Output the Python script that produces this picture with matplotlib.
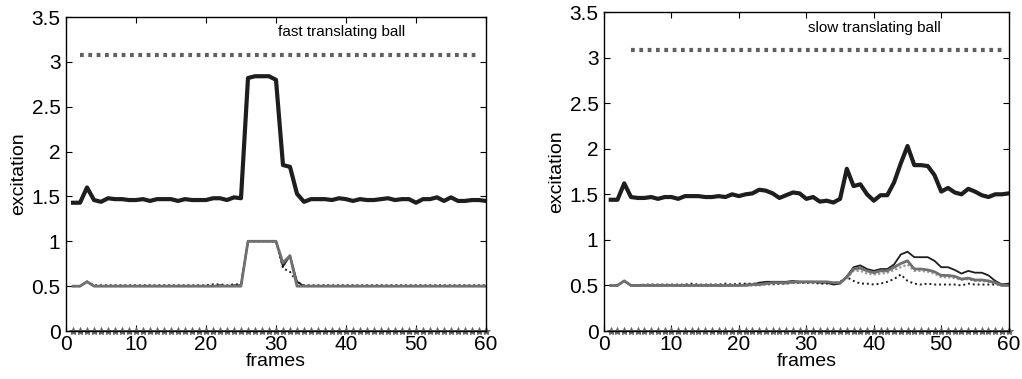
import numpy as np
import matplotlib.pyplot as plt
from matplotlib.ticker import FuncFormatter

plt.rcParams['font.family'] = ['Liberation Sans', 'DejaVu Sans']

frames = np.arange(1, 61)

# fast translating ball
fast_total = [1.43, 1.43, 1.60, 1.46, 1.44, 1.48, 1.47, 1.47, 1.46, 1.46,
              1.47, 1.45, 1.47, 1.47, 1.47, 1.45, 1.47, 1.46, 1.46, 1.46,
              1.48, 1.48, 1.46, 1.49, 1.48, 2.82, 2.84, 2.84, 2.84, 2.80,
              1.85, 1.83, 1.53, 1.44, 1.47, 1.47, 1.47, 1.46, 1.48, 1.47,
              1.45, 1.47, 1.46, 1.46, 1.47, 1.48, 1.46, 1.47, 1.47, 1.43,
              1.47, 1.47, 1.49, 1.45, 1.49, 1.45, 1.45, 1.46, 1.46, 1.45]
fast_a = [0.50, 0.50, 0.55, 0.50, 0.50, 0.50, 0.50, 0.50, 0.50, 0.50,
          0.50, 0.50, 0.50, 0.50, 0.50, 0.50, 0.50, 0.50, 0.50, 0.50,
          0.50, 0.51, 0.50, 0.51, 0.51, 1.00, 1.00, 1.00, 1.00, 1.00,
          0.72, 0.84, 0.55, 0.50, 0.50, 0.50, 0.50, 0.50, 0.50, 0.50,
          0.50, 0.50, 0.50, 0.50, 0.50, 0.50, 0.50, 0.50, 0.50, 0.50,
          0.50, 0.50, 0.50, 0.50, 0.50, 0.50, 0.50, 0.50, 0.50, 0.50]
fast_b = [0.50, 0.50, 0.55, 0.51, 0.51, 0.51, 0.51, 0.51, 0.51, 0.51,
          0.51, 0.51, 0.51, 0.51, 0.51, 0.51, 0.51, 0.51, 0.51, 0.51,
          0.52, 0.52, 0.51, 0.52, 0.52, 1.00, 1.00, 1.00, 1.00, 1.00,
          0.70, 0.66, 0.55, 0.51, 0.51, 0.51, 0.51, 0.51, 0.51, 0.51,
          0.51, 0.51, 0.51, 0.51, 0.51, 0.51, 0.51, 0.51, 0.51, 0.51,
          0.51, 0.51, 0.51, 0.51, 0.51, 0.51, 0.51, 0.51, 0.51, 0.51]
fast_c = [0.50, 0.50, 0.55, 0.50, 0.50, 0.50, 0.50, 0.50, 0.50, 0.50,
          0.50, 0.50, 0.50, 0.50, 0.50, 0.50, 0.50, 0.50, 0.50, 0.50,
          0.50, 0.50, 0.50, 0.50, 0.50, 1.00, 1.00, 1.00, 1.00, 1.00,
          0.76, 0.84, 0.50, 0.50, 0.50, 0.50, 0.50, 0.50, 0.50, 0.50,
          0.50, 0.50, 0.50, 0.50, 0.50, 0.50, 0.50, 0.50, 0.50, 0.50,
          0.50, 0.50, 0.50, 0.50, 0.50, 0.50, 0.50, 0.50, 0.50, 0.50]

# slow translating ball
slow_total = [1.44, 1.44, 1.62, 1.47, 1.46, 1.46, 1.47, 1.45, 1.47, 1.47,
              1.45, 1.48, 1.48, 1.48, 1.47, 1.47, 1.48, 1.47, 1.50, 1.48,
              1.50, 1.51, 1.55, 1.54, 1.51, 1.46, 1.49, 1.52, 1.51, 1.45,
              1.47, 1.42, 1.43, 1.41, 1.45, 1.78, 1.59, 1.61, 1.50, 1.43,
              1.49, 1.49, 1.63, 1.84, 2.03, 1.82, 1.82, 1.81, 1.71, 1.53,
              1.57, 1.52, 1.50, 1.56, 1.53, 1.49, 1.47, 1.50, 1.50, 1.51]
slow_a = [0.50, 0.50, 0.55, 0.50, 0.50, 0.50, 0.50, 0.50, 0.50, 0.50,
          0.50, 0.50, 0.50, 0.50, 0.50, 0.50, 0.50, 0.50, 0.50, 0.50,
          0.51, 0.51, 0.53, 0.54, 0.54, 0.54, 0.54, 0.55, 0.54, 0.54,
          0.54, 0.53, 0.53, 0.51, 0.52, 0.60, 0.70, 0.72, 0.68, 0.66,
          0.68, 0.68, 0.73, 0.84, 0.87, 0.81, 0.81, 0.81, 0.77, 0.70,
          0.70, 0.67, 0.63, 0.66, 0.64, 0.64, 0.61, 0.55, 0.51, 0.52]
slow_b = [0.50, 0.50, 0.55, 0.50, 0.50, 0.51, 0.51, 0.51, 0.51, 0.51,
          0.51, 0.51, 0.52, 0.51, 0.51, 0.51, 0.51, 0.52, 0.51, 0.52,
          0.52, 0.52, 0.52, 0.52, 0.52, 0.52, 0.52, 0.53, 0.53, 0.53,
          0.53, 0.52, 0.52, 0.52, 0.54, 0.59, 0.55, 0.52, 0.52, 0.51,
          0.52, 0.54, 0.57, 0.62, 0.55, 0.52, 0.51, 0.52, 0.51, 0.51,
          0.51, 0.51, 0.50, 0.52, 0.51, 0.51, 0.51, 0.51, 0.51, 0.51]
slow_c = [0.50, 0.50, 0.55, 0.50, 0.50, 0.50, 0.50, 0.50, 0.50, 0.50,
          0.50, 0.50, 0.50, 0.50, 0.50, 0.50, 0.50, 0.50, 0.50, 0.50,
          0.50, 0.51, 0.51, 0.52, 0.53, 0.53, 0.53, 0.54, 0.54, 0.54,
          0.54, 0.54, 0.54, 0.53, 0.53, 0.59, 0.68, 0.69, 0.66, 0.64,
          0.66, 0.66, 0.70, 0.74, 0.77, 0.68, 0.68, 0.67, 0.65, 0.61,
          0.61, 0.60, 0.57, 0.58, 0.56, 0.56, 0.55, 0.53, 0.50, 0.50]
slow_d = [0.50, 0.50, 0.55, 0.50, 0.50, 0.50, 0.50, 0.50, 0.50, 0.50,
          0.50, 0.50, 0.50, 0.50, 0.50, 0.50, 0.50, 0.50, 0.50, 0.50,
          0.50, 0.50, 0.50, 0.51, 0.51, 0.52, 0.52, 0.53, 0.53, 0.53,
          0.53, 0.53, 0.53, 0.53, 0.53, 0.58, 0.66, 0.66, 0.63, 0.62,
          0.63, 0.64, 0.67, 0.70, 0.73, 0.66, 0.66, 0.65, 0.63, 0.59,
          0.59, 0.58, 0.56, 0.57, 0.55, 0.55, 0.54, 0.52, 0.50, 0.50]

threshold = 3.08
baseline = np.zeros(60)
titles = ['fast translating ball', 'slow translating ball']

fig = plt.figure(figsize=(10.22, 3.79), dpi=100)
ax1 = fig.add_axes([0.0646, 0.1266, 0.4109, 0.8285])
ax2 = fig.add_axes([0.591, 0.1266, 0.396, 0.8417])

dark = '#1e1e1e'
gray = '#707070'

panels = [
    (ax1, fast_total, [fast_a, fast_b, fast_c], None, (2, 59)),
    (ax2, slow_total, [slow_a, slow_b, slow_c], slow_d, (4, 59)),
]

for i, (ax, total, thin, extra, (t0, t1)) in enumerate(panels):
    ax.plot([t0, t1], [threshold, threshold], color='#606060', lw=3,
            linestyle=(0, (0.9, 1.1)), dash_capstyle='butt')
    ax.plot(frames, total, color=dark, lw=3)
    if extra is not None:
        ax.plot(frames, extra, color='#9a9a9a', lw=1.6, linestyle=(0, (1, 1)))
    ax.plot(frames, thin[1], color=dark, lw=1.4, linestyle=(0, (1, 1.5)))
    ax.plot(frames, thin[0], color=dark, lw=1.3)
    ax.plot(frames, thin[2], color=gray, lw=2)
    ax.plot(frames, baseline, color='#666666', lw=1.2, marker='*', ms=6,
            markeredgewidth=0.7, clip_on=False)

    ax.set_xlim(0, 60)
    ax.set_ylim(0, 3.5)
    ax.set_xticks(range(0, 61, 10))
    ax.set_yticks(np.arange(0, 3.51, 0.5))
    ax.yaxis.set_major_formatter(FuncFormatter(lambda v, p: f'{v:g}'))
    ax.tick_params(direction='in', top=True, right=True, length=4,
                   labelsize=15, width=0.8)
    ax.tick_params(axis='x', pad=3)
    ax.tick_params(axis='y', pad=4)
    for s in ax.spines.values():
        s.set_linewidth(1)
    ax.set_xlabel('frames', fontsize=14, labelpad=-1)
    ax.set_ylabel('excitation', fontsize=14, labelpad=3)
    ax.text(30.3, 3.33, titles[i], fontsize=11, va='center')

fig.savefig('out.png', dpi=100)
